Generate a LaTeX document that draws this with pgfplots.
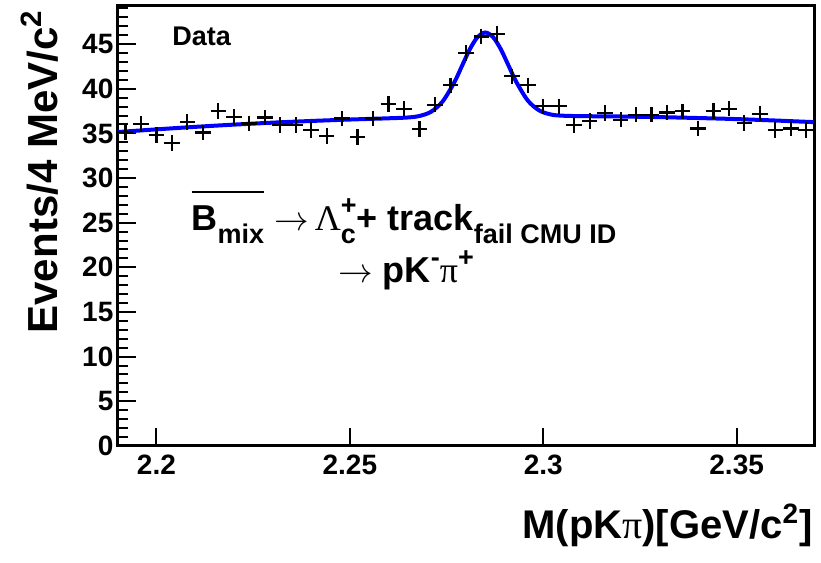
\documentclass[border=0pt]{standalone}
\usepackage{fontspec}
\setmainfont{Liberation Sans}
\newfontfamily\symf{Liberation Serif}
\usepackage{pgfplots}
\pgfplotsset{compat=1.18}
\newsavebox\ovbox
\newcommand\ovl[1]{\sbox\ovbox{#1}\rlap{\raisebox{19pt}{\rule{\wd\ovbox}{1pt}}}\usebox\ovbox}
\newcommand\sub[1]{\raisebox{-6.5pt}{\fontsize{13.5}{13.5}\selectfont #1}}
\newcommand\sups[1]{\raisebox{8pt}{\fontsize{13.5}{13.5}\selectfont #1}}
\begin{document}
\begin{tikzpicture}
\begin{axis}[
  scale only axis, width=348pt, height=220pt,
  xmin=2.19, xmax=2.37, ymin=0, ymax=49.3,
  xtick={2.2,2.25,2.3,2.35}, xticklabels={2.2,2.25,2.3,2.35},
  ytick={0,5,...,45},
  minor ytick={0,1,...,49},
  xtick pos=lower, ytick pos=left,
  tick align=inside,
  major tick length=9pt, minor tick length=5pt,
  axis line style={line width=1.5pt},
  every tick/.style={black, line width=1pt},
  /pgf/number format/assume math mode=true,
  tick label style={font=\bfseries\fontsize{14}{14}\selectfont, inner sep=0pt},
  xticklabel style={anchor=base, yshift=-14.5pt},
  yticklabel style={anchor=east, xshift=-2pt},
  clip=false,
]
\addplot[only marks, mark=+, mark size=3.9pt, mark options={line width=1.1pt, black}] coordinates {
(2.192,35.16) (2.196,36.02) (2.200,34.79) (2.204,33.93) (2.208,36.28)
(2.212,35.09) (2.216,37.51) (2.220,36.83) (2.224,36.10) (2.228,36.77)
(2.232,35.91) (2.236,35.91) (2.240,35.35) (2.244,34.68) (2.248,36.66)
(2.252,34.60) (2.256,36.66) (2.260,38.26) (2.264,37.77) (2.268,35.46)
(2.272,38.22) (2.276,40.38) (2.280,43.99) (2.284,45.86) (2.288,46.16)
(2.292,41.39) (2.296,40.38) (2.300,38.03) (2.304,38.03) (2.308,35.91)
(2.312,36.39) (2.316,37.25) (2.320,36.54) (2.324,37.10) (2.328,37.10)
(2.332,37.33) (2.336,37.47) (2.340,35.54) (2.344,37.51) (2.348,37.77)
(2.352,36.16) (2.356,37.21) (2.360,35.35) (2.364,35.54) (2.368,35.35)
};
\addplot[blue, line width=2pt, smooth] coordinates {
(2.19,35.15) (2.20,35.45) (2.21,35.73) (2.22,35.98) (2.23,36.20) (2.24,36.39)
(2.25,36.55) (2.26,36.69) (2.265,36.78) (2.268,36.95) (2.271,37.42) (2.274,38.58)
(2.277,40.71) (2.279,42.56) (2.281,44.41) (2.283,45.78) (2.285,46.30) (2.287,45.80)
(2.289,44.45) (2.291,42.62) (2.293,40.79) (2.296,38.68) (2.299,37.56) (2.302,37.11)
(2.305,36.98) (2.31,36.93) (2.32,36.89) (2.33,36.82) (2.34,36.72) (2.35,36.60)
(2.36,36.44) (2.37,36.26)
};
\node[anchor=base west, inner sep=0pt, font=\bfseries\fontsize{13.5}{13.5}\selectfont] at (axis cs:2.204,44.86) {Data};
\node[anchor=base west, inner sep=0pt, font=\bfseries\fontsize{18}{18}\selectfont] at (axis cs:2.2090,24.1)
  {\ovl{B\sub{mix}}\ $\rightarrow$\,{\symf\mdseries Λ}\rlap{\sub{c}}\sups{+}+ track\sub{fail CMU ID}};
\node[anchor=base west, inner sep=0pt, font=\bfseries\fontsize{18}{18}\selectfont] at (axis cs:2.2469,18.3)
  {$\rightarrow$ pK\sups{-}{\symf\mdseries π}\sups{+}};
\end{axis}
\node[rotate=90, anchor=base east, inner sep=0pt, font=\bfseries\fontsize{21}{21}\selectfont]
  at ([xshift=-30.35pt, yshift=-2pt]current axis.north west) {Events/4 MeV/c\textsuperscript{2}};
\node[anchor=base east, inner sep=0pt, font=\bfseries\fontsize{20}{20}\selectfont]
  at ([xshift=-0.5pt, yshift=-46.5pt]current axis.south east) {M(pK{\symf\mdseries π})[GeV/c\textsuperscript{2}]};
\pgfresetboundingbox
\path[use as bounding box] ([xshift=-58.85pt, yshift=-58.5pt]current axis.south west) rectangle ([xshift=3.5pt, yshift=2.85pt]current axis.north east);
\end{tikzpicture}
\end{document}
